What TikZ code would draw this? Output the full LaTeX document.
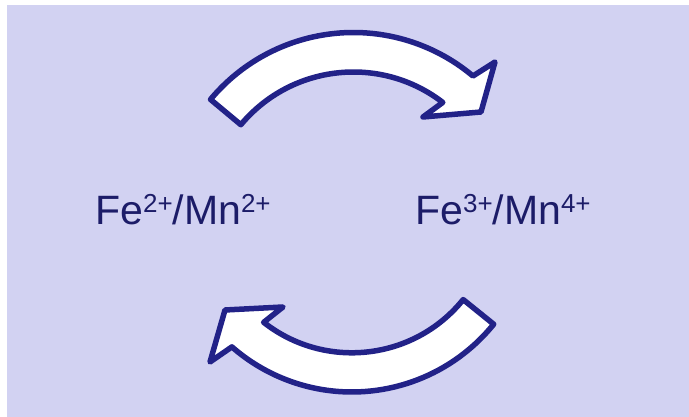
\documentclass[tikz,border=0pt]{standalone}
\usepackage{fontspec}
\setmainfont{Liberation Sans}
\usetikzlibrary{calc}
\definecolor{bgcol}{RGB}{210,210,242}
\definecolor{strokecol}{RGB}{34,34,136}
\definecolor{textcol}{RGB}{28,28,104}
\newcommand{\supchg}[1]{\raisebox{12pt}{\fontsize{26}{26}\selectfont #1}}
\tikzset{
  bandarrow/.style={draw=strokecol, line width=5.5pt, fill=white, line join=round},
  ionlabel/.style={anchor=base west, inner sep=0pt, text=textcol, font=\fontsize{41}{41}\selectfont}
}
\begin{document}
\begin{tikzpicture}[x=1pt,y=1pt]
\useasboundingbox (0,0) rectangle (689,417);
\fill[bgcol] (7,0) rectangle (689,412);
\coordinate (C1) at (353.4,198.5);
\coordinate (C2) at (351.9,207.2);
% top arrow (left to right)
\draw[bandarrow] ($(C1)+(140.2:186pt)$) arc[start angle=140.2, end angle=50.0, radius=186pt]
  -- (495,355) -- (481,305) -- (423,300)
  -- ($(C1)+(52.4:146.5pt)$) arc[start angle=52.4, end angle=140.2, radius=146.5pt] -- cycle;
% bottom arrow (right to left)
\draw[bandarrow] ($(C2)+(-38.9:182.2pt)$) arc[start angle=-38.9, end angle=-131.2, radius=182.2pt]
  -- (210,55) -- (225,107) -- (283,110)
  -- ($(C2)+(-128.1:143pt)$) arc[start angle=-128.1, end angle=-38.9, radius=143pt] -- cycle;
\node[ionlabel] (left) at (95,192) {Fe\supchg{2+}/Mn\supchg{2+}};
\node[ionlabel] (right) at (415,192) {Fe\supchg{3+}/Mn\supchg{4+}};
\end{tikzpicture}
\end{document}
